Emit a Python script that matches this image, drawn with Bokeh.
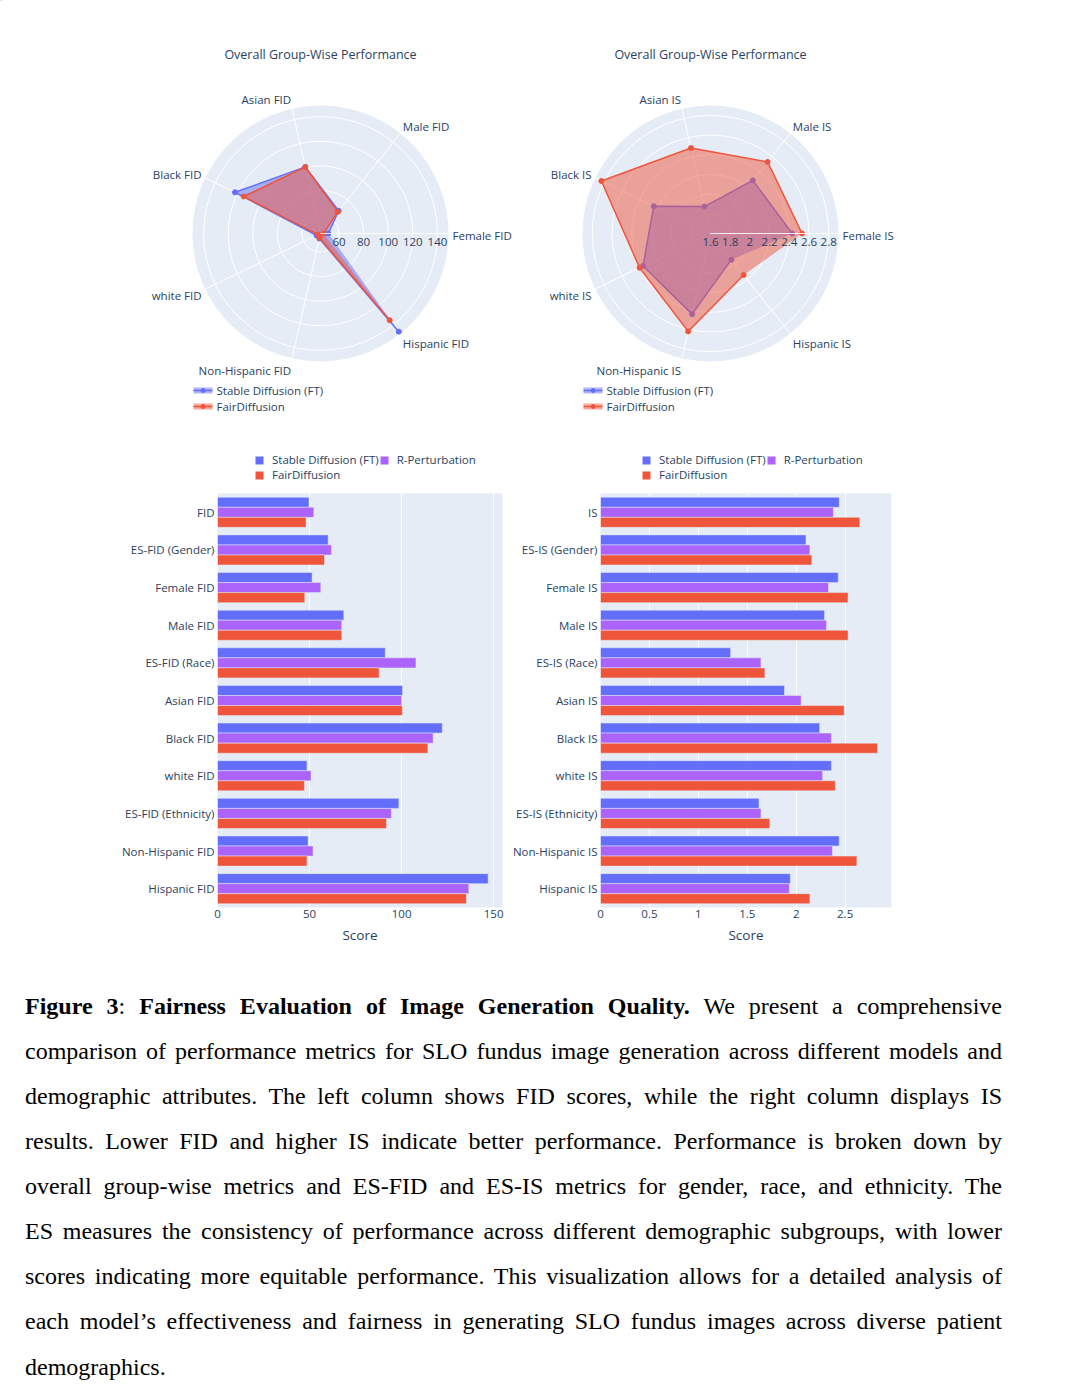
import numpy as np
from bokeh.plotting import figure
from bokeh.models import (ColumnDataSource, Range1d, FactorRange, FixedTicker,
                          NumeralTickFormatter, Legend, LegendItem, Div)
from bokeh.layouts import column, row
from bokeh.transform import dodge
from bokeh.core.properties import value, field
from bokeh.embed import file_html
from bokeh.resources import INLINE

FONT = "Open Sans"
TXT = "#2a3f5f"
BG = "#E5ECF6"
C_SD = "#636EFA"
C_RP = "#AB63FA"
C_FD = "#EF553B"

# ---------------- data ----------------
models = ["Stable Diffusion (FT)", "R-Perturbation", "FairDiffusion"]
radar_title = "Overall Group-Wise Performance"

fid_radar_cats = ["Female FID", "Male FID", "Asian FID", "Black FID",
                  "white FID", "Non-Hispanic FID", "Hispanic FID"]
fid_radar_sd = [51.4, 68.6, 100.5, 122.1, 48.6, 49.2, 147.0]
fid_radar_fd = [47.4, 67.5, 100.4, 114.3, 47.2, 48.6, 135.2]
fid_radial_range = [45, 149]
fid_radial_ticks = [60, 80, 100, 120, 140]
fid_radial_labels = ["60", "80", "100", "120", "140"]

is_radar_cats = ["Female IS", "Male IS", "Asian IS", "Black IS",
                 "white IS", "Non-Hispanic IS", "Hispanic IS"]
is_radar_sd = [2.43, 2.29, 1.88, 2.24, 2.36, 2.44, 1.94]
is_radar_fd = [2.53, 2.53, 2.49, 2.83, 2.40, 2.62, 2.14]
is_radial_range = [1.6, 2.9]
is_radial_ticks = [1.6, 1.8, 2.0, 2.2, 2.4, 2.6, 2.8]
is_radial_labels = ["1.6", "1.8", "2", "2.2", "2.4", "2.6", "2.8"]

fid_cats = ["FID", "ES-FID (Gender)", "Female FID", "Male FID", "ES-FID (Race)",
            "Asian FID", "Black FID", "white FID", "ES-FID (Ethnicity)",
            "Non-Hispanic FID", "Hispanic FID"]
fid_sd = [49.7, 60.1, 51.4, 68.6, 91.1, 100.5, 122.1, 48.6, 98.5, 49.2, 147.0]
fid_rp = [52.3, 61.9, 56.1, 67.5, 107.8, 100.0, 117.1, 50.8, 94.4, 51.9, 136.5]
fid_fd = [48.1, 58.1, 47.4, 67.5, 87.8, 100.4, 114.3, 47.2, 91.8, 48.6, 135.2]
fid_ticks = [0, 50, 100, 150]

is_cats = ["IS", "ES-IS (Gender)", "Female IS", "Male IS", "ES-IS (Race)",
           "Asian IS", "Black IS", "white IS", "ES-IS (Ethnicity)",
           "Non-Hispanic IS", "Hispanic IS"]
is_sd = [2.44, 2.10, 2.43, 2.29, 1.33, 1.88, 2.24, 2.36, 1.62, 2.44, 1.94]
is_rp = [2.38, 2.14, 2.33, 2.31, 1.64, 2.05, 2.36, 2.27, 1.64, 2.37, 1.93]
is_fd = [2.65, 2.16, 2.53, 2.53, 1.68, 2.49, 2.83, 2.40, 1.73, 2.62, 2.14]
is_ticks = [0, 0.5, 1, 1.5, 2, 2.5]

caption_lines = [
    "<b>Figure 3</b>: <b>Fairness Evaluation of Image Generation Quality.</b> We present a comprehensive",
    "comparison of performance metrics for SLO fundus image generation across different models and",
    "demographic attributes. The left column shows FID scores, while the right column displays IS",
    "results. Lower FID and higher IS indicate better performance. Performance is broken down by",
    "overall group-wise metrics and ES-FID and ES-IS metrics for gender, race, and ethnicity. The",
    "ES measures the consistency of performance across different demographic subgroups, with lower",
    "scores indicating more equitable performance. This visualization allows for a detailed analysis of",
    "each model\u2019s effectiveness and fairness in generating SLO fundus images across diverse patient",
    "demographics.",
]

# ---------------- top figure: two radar charts (+ bar legends) ----------------
TOP_H = 485
top = figure(width=1064, height=TOP_H, x_range=Range1d(0, 1064), y_range=Range1d(TOP_H, 0),
             x_axis_location=None, y_axis_location=None, output_backend="svg",
             toolbar_location=None, tools="", min_border=0)
top.grid.visible = False
top.outline_line_color = None


def txt(p, xs, ys, texts, size, align, baseline, style="normal"):
    n = len(texts)
    src = ColumnDataSource(dict(x=list(xs), y=list(ys), text=list(texts),
                                align=align if isinstance(align, list) else [align] * n,
                                base=baseline if isinstance(baseline, list) else [baseline] * n))
    p.text(x="x", y="y", text="text", source=src, text_font=value(FONT),
           text_font_size=value(size), text_color=TXT, text_align=field("align"),
           text_baseline=field("base"), text_font_style=style)


def radar(p, cx, cy, cats, series, rr, ticks, tick_labels):
    R = 128
    n = len(cats)
    th = np.arange(n) * 2 * np.pi / n
    cs, sn = np.cos(th), np.sin(th)

    def scale(v):
        return (np.asarray(v, float) - rr[0]) / (rr[1] - rr[0]) * R

    p.circle(x=[cx], y=[cy], radius=R, fill_color=BG, line_color=None)
    tr = scale(ticks)
    tr = tr[tr > 0.5]
    p.circle(x=[cx] * len(tr), y=[cy] * len(tr), radius=list(tr), fill_color=None,
             line_color="white", line_width=1)
    p.segment(x0=[cx] * n, y0=[cy] * n, x1=list(cx + R * cs), y1=list(cy - R * sn),
              line_color="white", line_width=1)
    for vals, color in series:
        r = scale(vals)
        xs = cx + r * cs
        ys = cy - r * sn
        p.patch(list(xs), list(ys), fill_color=color, fill_alpha=0.5, line_color=None)
        p.line(list(xs), list(ys), line_color=color, line_width=1.5)
        p.scatter(list(xs), list(ys), size=5, fill_color=color, line_color=color)
    p.segment(x0=[cx], y0=[cy], x1=[cx + R], y1=[cy], line_color="white", line_width=1, line_alpha=0.85)
    # radial tick labels
    txt(p, cx + scale(ticks), [cy + 8] * len(ticks), tick_labels, "11.5px", "center", "middle")
    # angular labels
    pad = 4
    lx = cx + (R + pad) * cs
    ly = cy - (R + pad) * sn - 6.5 * sn + 1.5
    al = ["left" if c > 0.05 else ("right" if c < -0.05 else "center") for c in cs]
    txt(p, lx, ly, cats, "11.5px", al, "middle")
    # title
    txt(p, [cx], [54], [radar_title], "12.5px", "center", "middle")
    # legend (plotly-style line+fill icon)
    lx0 = cx - 127
    for k, (name, color) in enumerate([(models[0], C_SD), (models[2], C_FD)]):
        yy = cy + 157 + 16 * k
        p.quad(left=[lx0], right=[lx0 + 19], top=[yy - 3], bottom=[yy + 3],
               fill_color=color, fill_alpha=0.5, line_color=None)
        p.segment(x0=[lx0], y0=[yy], x1=[lx0 + 19], y1=[yy], line_color=color, line_width=1.5)
        p.scatter([lx0 + 9.5], [yy], size=4, fill_color=color, line_color=color)
        txt(p, [lx0 + 23], [yy], [name], "11.5px", "left", "middle")


radar(top, 320, 233, fid_radar_cats, [(fid_radar_sd, C_SD), (fid_radar_fd, C_FD)],
      fid_radial_range, fid_radial_ticks, fid_radial_labels)
radar(top, 710, 233, is_radar_cats, [(is_radar_sd, C_SD), (is_radar_fd, C_FD)],
      is_radial_range, is_radial_ticks, is_radial_labels)

# legends of the bar charts (drawn in the top canvas, just above each bar chart);
# the proxy renderers hold one off-canvas item so that the legend swatch gets its colour
leg_renderers = []
for color in [C_SD, C_RP, C_FD]:
    proxy = ColumnDataSource(dict(y=[-5000], right=[1]))
    leg_renderers.append(top.hbar(y="y", left=0, right="right", height=1, source=proxy,
                                  fill_color=color, line_color=None))
for vx in [254, 641]:
    leg = Legend(items=[LegendItem(label=models[i], renderers=[leg_renderers[i]], index=0)
                        for i in range(3)],
                 orientation="horizontal", ncols=2, location=(vx, 3),
                 glyph_width=10, glyph_height=10, label_standoff=8, spacing=0,
                 padding=0, margin=0, background_fill_alpha=0, border_line_color=None,
                 label_text_font=FONT, label_text_font_size="11.5px", label_text_color=TXT,
                 label_height=15)
    top.add_layout(leg)


# ---------------- bar charts ----------------
def bar_fig(cats, sd, rp, fd, xmax, ticks, fmt, width, bl, br):
    p = figure(width=width, height=465, y_range=FactorRange(factors=cats[::-1]),
               x_range=Range1d(0, xmax), output_backend="svg", toolbar_location=None, tools="",
               min_border_left=bl, min_border_right=br, min_border_top=8, min_border_bottom=43)
    p.background_fill_color = BG
    p.outline_line_color = None
    src = ColumnDataSource(dict(cat=cats, sd=sd, rp=rp, fd=fd))
    w = 0.8 / 3
    for col, off, color in [("sd", w, C_SD), ("rp", 0, C_RP), ("fd", -w, C_FD)]:
        p.hbar(y=dodge("cat", off, range=p.y_range), left=0, right=col, height=w,
               source=src, fill_color=color, line_color=BG, line_width=0.5)
    p.xaxis.ticker = FixedTicker(ticks=ticks)
    p.xgrid.ticker = FixedTicker(ticks=ticks)
    p.xaxis.formatter = NumeralTickFormatter(format=fmt)
    p.xgrid.grid_line_color = "white"
    p.xgrid.grid_line_width = 1
    p.ygrid.grid_line_color = None
    p.xaxis.axis_label = "Score"
    for ax in p.axis:
        ax.axis_line_color = None
        ax.major_tick_line_color = None
        ax.minor_tick_line_color = None
        ax.major_tick_out = 0
        ax.major_tick_in = 0
        ax.major_label_text_font = FONT
        ax.major_label_text_font_size = "11.5px"
        ax.major_label_text_color = TXT
        ax.axis_label_text_font = FONT
        ax.axis_label_text_font_size = "13.5px"
        ax.axis_label_text_color = TXT
        ax.axis_label_text_font_style = "normal"
    p.xaxis.major_label_standoff = 2
    p.xaxis.axis_label_standoff = 5
    p.yaxis.major_label_standoff = 3
    return p


bar_fid = bar_fig(fid_cats, fid_sd, fid_rp, fid_fd, 154.8, fid_ticks, "0", 508, 217, 6)
bar_is = bar_fig(is_cats, is_sd, is_rp, is_fd, 2.974, is_ticks, "0.[0]", 395, 92, 12)

# ---------------- caption ----------------
parts = []
for i, ln in enumerate(caption_lines):
    if i < len(caption_lines) - 1:
        parts.append('<div style="text-align:justify;text-align-last:justify;height:45px;line-height:45px;">%s</div>' % ln)
    else:
        parts.append('<div style="text-align:left;line-height:24px;margin-top:10.5px;">%s</div>' % ln)
html = ('<div style="box-sizing:border-box;padding:29px 0 0 20px;width:997px;'
        'font-family:\'Liberation Serif\',\'Times New Roman\',serif;'
        'font-size:24px;color:#000;">' + "".join(parts) + "</div>")
caption = Div(text=html, width=1064, height=425)

layout = column(top, row(bar_fid, bar_is), caption)
open("out.html", "w").write(file_html(layout, INLINE))
